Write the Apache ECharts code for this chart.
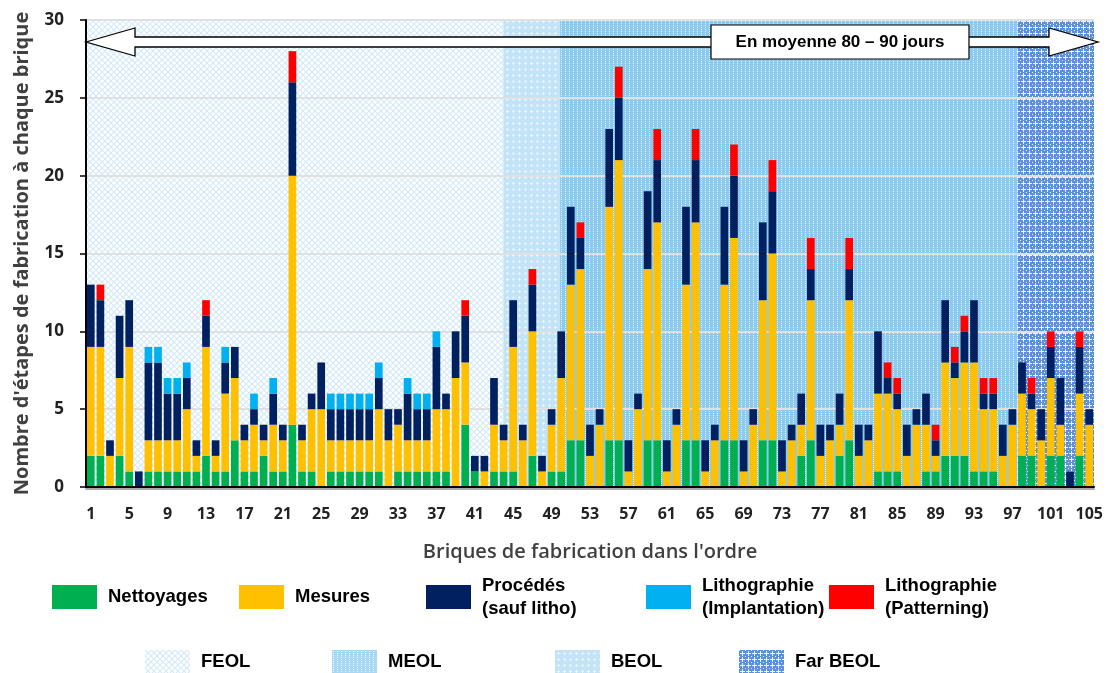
<!DOCTYPE html>
<html>
<head>
<meta charset="utf-8">
<script src="https://cdn.jsdelivr.net/npm/echarts@6/dist/echarts.min.js"></script>
<style>
  html, body { margin: 0; padding: 0; background: #fff; }
  #chart { width: 1111px; height: 673px; }
</style>
</head>
<body>
<div id="chart"></div>
<script>
// briques 1..105
const bricks = Array.from({ length: 105 }, (_, i) => String(i + 1))

const nettoyages = [
  2, 2, 0, 2, 1, 0, 1, 1, 1, 1, 1, 1, 2, 1, 1,
  3, 1, 1, 2, 1, 1, 4, 1, 1, 0, 1, 1, 1, 1, 1,
  1, 0, 1, 1, 1, 1, 1, 1, 0, 4, 1, 0, 1, 1, 1,
  0, 2, 0, 1, 1, 3, 3, 0, 0, 3, 3, 0, 0, 3, 3,
  0, 0, 3, 3, 0, 0, 3, 3, 0, 0, 3, 3, 0, 0, 2,
  3, 0, 0, 2, 3, 0, 0, 1, 1, 1, 0, 0, 1, 1, 2,
  2, 2, 1, 1, 1, 0, 0, 2, 2, 0, 2, 2, 0, 2, 0,
]
const mesures = [
  7, 7, 2, 5, 8, 0, 2, 2, 2, 2, 4, 1, 7, 1, 5,
  4, 2, 3, 1, 3, 2, 16, 2, 4, 5, 2, 2, 2, 2, 2,
  4, 3, 3, 2, 2, 2, 4, 4, 7, 4, 0, 1, 3, 2, 8,
  3, 8, 1, 3, 6, 10, 11, 2, 4, 15, 18, 1, 5, 11, 14,
  1, 4, 10, 14, 1, 3, 10, 13, 1, 4, 9, 12, 1, 3, 2,
  9, 2, 3, 2, 9, 2, 3, 5, 5, 4, 2, 4, 3, 1, 6,
  5, 6, 7, 4, 4, 2, 4, 4, 3, 3, 5, 2, 0, 4, 4,
]
const procedes = [
  4, 3, 1, 4, 3, 1, 5, 5, 3, 3, 2, 1, 2, 1, 2,
  2, 1, 1, 1, 2, 1, 6, 1, 1, 3, 2, 2, 2, 2, 2,
  2, 2, 1, 3, 2, 2, 4, 1, 3, 3, 1, 1, 3, 1, 3,
  1, 3, 1, 1, 3, 5, 2, 2, 1, 5, 4, 2, 1, 5, 4,
  2, 1, 5, 4, 2, 1, 5, 4, 2, 1, 5, 4, 2, 1, 2,
  2, 2, 1, 2, 2, 2, 1, 4, 1, 1, 2, 1, 2, 1, 4,
  1, 2, 4, 1, 1, 2, 1, 2, 1, 2, 2, 3, 1, 3, 1,
]
const implantation = [
  0, 0, 0, 0, 0, 0, 1, 1, 1, 1, 1, 0, 0, 0, 1,
  0, 0, 1, 0, 1, 0, 0, 0, 0, 0, 1, 1, 1, 1, 1,
  1, 0, 0, 1, 1, 1, 1, 0, 0, 0, 0, 0, 0, 0, 0,
  0, 0, 0, 0, 0, 0, 0, 0, 0, 0, 0, 0, 0, 0, 0,
  0, 0, 0, 0, 0, 0, 0, 0, 0, 0, 0, 0, 0, 0, 0,
  0, 0, 0, 0, 0, 0, 0, 0, 0, 0, 0, 0, 0, 0, 0,
  0, 0, 0, 0, 0, 0, 0, 0, 0, 0, 0, 0, 0, 0, 0,
]
const patterning = [
  0, 1, 0, 0, 0, 0, 0, 0, 0, 0, 0, 0, 1, 0, 0,
  0, 0, 0, 0, 0, 0, 2, 0, 0, 0, 0, 0, 0, 0, 0,
  0, 0, 0, 0, 0, 0, 0, 0, 0, 1, 0, 0, 0, 0, 0,
  0, 1, 0, 0, 0, 0, 1, 0, 0, 0, 2, 0, 0, 0, 2,
  0, 0, 0, 2, 0, 0, 0, 2, 0, 0, 0, 2, 0, 0, 0,
  2, 0, 0, 0, 2, 0, 0, 0, 1, 1, 0, 0, 0, 1, 0,
  1, 1, 0, 1, 1, 0, 0, 0, 1, 0, 1, 0, 0, 1, 0,
]

const stepNames = ['Nettoyages', 'Mesures', 'Procédés\n(sauf litho)', 'Lithographie\n(Implantation)', 'Lithographie\n(Patterning)']
const stepColors = ['#00B050', '#FFC000', '#002060', '#00B0F0', '#FF0000']

// phases : limites en position de brique
const phaseNames = ['FEOL', 'MEOL', 'BEOL', 'Far BEOL']
const phaseStart = [0.5, 43.97, 49.88, 97.55]
const phaseEnd = [43.97, 49.88, 97.55, 105.5]

const yTicks = { min: 0, max: 30, interval: 5 }

// petits motifs hachurés
function pattern(size, bg, fg, draw) {
  const c = document.createElement('canvas')
  c.width = size
  c.height = size
  const ctx = c.getContext('2d')
  ctx.fillStyle = bg
  ctx.fillRect(0, 0, size, size)
  ctx.fillStyle = fg
  ctx.strokeStyle = fg
  draw(ctx, size)
  return { image: c, repeat: 'repeat' }
}
function lattice(ctx, s) {
  ctx.lineWidth = 1.2
  ctx.beginPath()
  ctx.moveTo(0, 0); ctx.lineTo(s, s)
  ctx.moveTo(s, 0); ctx.lineTo(0, s)
  ctx.stroke()
}
function plus(ctx, s) {
  const m = Math.floor(s / 2)
  ctx.fillRect(m - 1, m, 3, 1)
  ctx.fillRect(m, m - 1, 1, 3)
}
function bigPlus(ctx, s) {
  const m = Math.floor(s / 2)
  ctx.fillRect(m - 2, m, 5, 1)
  ctx.fillRect(m, m - 2, 1, 5)
  ctx.fillRect(0, 0, 1, 1)
}
function dots(ctx, s) {
  ctx.fillRect(1, 1, 1, 1)
  ctx.fillRect(1, 3, 1, 1)
}

const patFeol = pattern(6, '#ffffff', '#d3eaf9', lattice)
const patCross = pattern(6, '#c3e3f6', '#e9f5fd', plus)
const patDots = pattern(4, '#8ccbee', '#e3f3fc', dots)
const patFar = pattern(6, '#5b8fdf', '#eef3fc', bigPlus)
const patDotsLight = pattern(4, '#a8d8f3', '#eef8fd', dots)
const phasePatterns = [patFeol, patCross, patDots, patFar]
const phaseLegendPatterns = [patFeol, patDotsLight, patCross, patFar]

const chart = echarts.init(document.getElementById('chart'))

const stepData = [nettoyages, mesures, procedes, implantation, patterning]

const barSeries = stepNames.map((name, i) => ({
  name,
  type: 'bar',
  stack: 'total',
  z: 3,
  barWidth: '80%',
  xAxisIndex: 0,
  itemStyle: { color: stepColors[i] },
  data: stepData[i],
}))

const phaseSeries = phaseNames.map((name, i) => ({
  name,
  type: 'line',
  xAxisIndex: 1,
  data: [],
  silent: true,
  markArea: {
    silent: true,
    itemStyle: { color: phasePatterns[i] },
    data: [[{ xAxis: phaseStart[i] }, { xAxis: phaseEnd[i] }]],
  },
}))

const legendText = { fontFamily: 'Liberation Sans', fontWeight: 'bold', fontSize: 18.5, color: '#000', lineHeight: 23, padding: [0, 0, 0, 6] }
const row1Left = [52, 239, 426, 646, 829]
const row2Left = [145, 332, 555, 739]

const legends = stepNames.map((name, i) => ({
  left: row1Left[i],
  top: name.includes('\n') ? 574 : 585,
  padding: 0,
  itemWidth: 45,
  itemHeight: 24,
  icon: 'rect',
  selectedMode: false,
  textStyle: legendText,
  data: [name],
})).concat(phaseNames.map((name, i) => ({
  left: row2Left[i],
  top: 650,
  padding: 0,
  itemWidth: 45,
  itemHeight: 24,
  icon: 'rect',
  selectedMode: false,
  textStyle: legendText,
  data: [{ name, itemStyle: { color: phaseLegendPatterns[i] } }],
})))

chart.setOption({
  animation: false,
  backgroundColor: '#fff',
  grid: { left: 86, right: 17, top: 20, bottom: 186 },
  legend: legends,
  xAxis: [{
    type: 'category',
    data: bricks,
    z: 4,
    name: "Briques de fabrication dans l'ordre",
    nameLocation: 'middle',
    nameGap: 55,
    nameTextStyle: { fontFamily: 'Open Sans', fontSize: 20, fontWeight: 600, color: '#404040' },
    axisLine: { lineStyle: { color: '#000', width: 2, shadowColor: '#aaa', shadowOffsetY: 2 } },
    axisTick: { show: false },
    axisLabel: { interval: 3, margin: 19, fontFamily: 'Open Sans', fontSize: 16, fontWeight: 'bold', color: '#222' },
  }, {
    type: 'value',
    min: 0.5,
    max: 105.5,
    show: false,
  }],
  yAxis: {
    type: 'value',
    min: yTicks.min,
    max: yTicks.max,
    interval: yTicks.interval,
    z: 2,
    name: "Nombre d'étapes de fabrication à chaque brique",
    nameLocation: 'middle',
    nameGap: 54,
    nameRotate: 90,
    nameTextStyle: { fontFamily: 'Open Sans', fontSize: 20, fontWeight: 'bold', color: '#404040' },
    axisLine: { show: true, lineStyle: { color: '#000', width: 2 } },
    axisTick: { show: true, length: 6, lineStyle: { color: '#000', width: 1.5 } },
    axisLabel: { margin: 22, fontFamily: 'Open Sans', fontSize: 17, fontWeight: 'bold', color: '#222' },
    splitLine: { lineStyle: { color: '#e0e0e0', width: 2 } },
  },
  graphic: [{
    type: 'polygon',
    z: 100,
    shape: {
      points: [[86, 42], [135, 28], [135, 37], [1049, 37], [1049, 28], [1098, 42],
        [1049, 56], [1049, 47], [135, 47], [135, 56]],
    },
    style: { fill: '#fff', stroke: '#000', lineWidth: 1.3 },
  }, {
    type: 'rect',
    z: 101,
    shape: { x: 711, y: 25, width: 258, height: 34 },
    style: { fill: '#fff', stroke: '#000', lineWidth: 1.2 },
  }, {
    type: 'text',
    z: 102,
    x: 840,
    y: 42,
    style: {
      text: 'En moyenne 80 – 90 jours',
      fontFamily: 'Liberation Sans',
      fontWeight: 'bold',
      fontSize: 17,
      fill: '#000',
      align: 'center',
      verticalAlign: 'middle',
    },
  }],
  series: phaseSeries.concat(barSeries),
})
</script>
</body>
</html>
